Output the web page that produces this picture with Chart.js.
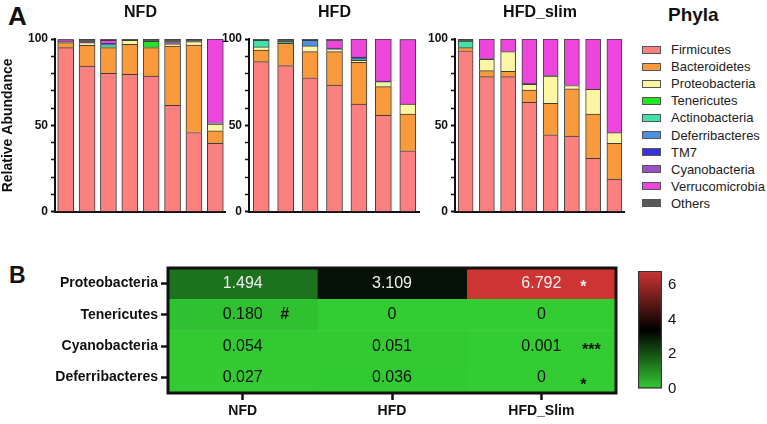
<!DOCTYPE html>
<html>
<head>
<meta charset="utf-8">
<script src="https://cdn.jsdelivr.net/npm/chart.js@4.4.1/dist/chart.umd.min.js"></script>
<style>
    body { margin: 0; background: #fff; font-family: "Liberation Sans", Arial, sans-serif; }
    #wrap { position: relative; width: 767px; height: 424px; overflow: hidden; }
    canvas { position: absolute; }
    .tag { position: absolute; font-weight: bold; color: #111; }
    #legend { position: absolute; left: 642px; top: 42px; }
    .row { position: absolute; left: 0; height: 16px; white-space: nowrap; font-size: 13px; color: #222; line-height: 16px; }
    .sw { display: inline-block; width: 17px; height: 6px; border: 1px solid #555; margin-right: 10px; vertical-align: middle; position: relative; top: -1px; }
</style>
</head>
<body>
<div id="wrap">
    <div class="tag" style="left:8px;top:1px;font-size:26px;">A</div>
    <div class="tag" style="left:9px;top:262px;font-size:23px;">B</div>
    <div class="tag" style="left:668px;top:4px;font-size:19px;">Phyla</div>
    <div id="legend"></div>
    <canvas id="nfd" width="226" height="222" style="left:0;top:0"></canvas>
    <canvas id="hfd" width="205" height="222" style="left:215px;top:0"></canvas>
    <canvas id="slim" width="205" height="222" style="left:420px;top:0"></canvas>
    <canvas id="heat" width="630" height="169" style="left:0;top:255px"></canvas>
    <canvas id="cbar" width="60" height="156" style="left:630px;top:252px"></canvas>
</div>
<script>
// Panel A: phyla, stacked from bottom to top
const phyla = ['Firmicutes', 'Bacteroidetes', 'Proteobacteria', 'Tenericutes', 'Actinobacteria',
    'Deferribacteres', 'TM7', 'Cyanobacteria', 'Verrucomicrobia', 'Others'];
const phylaColors = ['#fb8080', '#f99b3d', '#fbf6a2', '#22e622', '#41e2a6',
    '#4b90e3', '#3434dc', '#9b4fc9', '#ee46dc', '#595959'];

const nfdMice = ['1', '2', '3', '4', '5', '6', '7', '8'];
const hfdMice = ['1', '2', '3', '4', '5', '6', '7'];
const slimMice = ['1', '2', '3', '4', '5', '6', '7', '8'];

// one row per phylum, one column per mouse (%)
const nfdValues = [
    [95.0, 84.4, 80.1, 79.5, 78.6, 61.6, 45.9, 39.6],
    [2.9, 11.9, 14.9, 17.4, 16.4, 34.3, 50.6, 7.3],
    [0.4, 1.6, 0.3, 2.3, 0.3, 1.3, 2.0, 3.9],
    [0, 0, 0, 0, 3.4, 0, 0, 0],
    [0, 0, 1.5, 0, 0, 0, 0, 0.4],
    [0, 0, 0, 0, 0, 0, 0, 0],
    [0, 0, 0.7, 0, 0, 0, 0, 0],
    [0.4, 0, 0, 0, 0, 0.8, 0, 0],
    [0.8, 0.3, 1.8, 0, 0, 0, 0, 48.8],
    [0.5, 1.8, 0.7, 0.8, 1.3, 2.0, 1.5, 0],
];
const hfdValues = [
    [86.9, 84.6, 77.6, 73.4, 62.4, 55.8, 35.3],
    [6.7, 12.9, 15.1, 19.3, 24.1, 16.6, 21.3],
    [1.8, 0, 3.3, 1.6, 1.2, 2.9, 5.8],
    [0, 0, 0, 0, 0, 0, 0],
    [3.9, 0.8, 0, 0, 0.8, 0, 0],
    [0, 0, 3.3, 0, 0, 0, 0],
    [0, 0, 0, 0.5, 1.0, 0.4, 0],
    [0, 0, 0, 0, 0, 0, 0],
    [0, 0, 0, 4.6, 10.5, 24.3, 37.3],
    [0.7, 1.7, 0.7, 0.6, 0, 0, 0.3],
];
const slimValues = [
    [93.2, 78.2, 78.2, 63.3, 44.6, 43.8, 30.9, 18.9],
    [1.8, 3.5, 3.1, 7.2, 18.1, 27.4, 25.7, 20.7],
    [0, 6.6, 11.4, 3.3, 15.8, 1.9, 14.3, 6.2],
    [0, 0, 0, 0, 0, 0, 0, 0],
    [3.8, 0, 0, 0, 0, 0, 0, 0],
    [0, 0, 0, 0, 0, 0, 0, 0],
    [0, 0, 0, 0, 0, 0, 0, 0],
    [0, 0.4, 0, 0.5, 0.4, 0, 0, 0],
    [0, 11.3, 7.3, 25.7, 21.1, 26.9, 29.1, 54.2],
    [1.2, 0, 0, 0, 0, 0, 0, 0],
];

// Panel B: heatmap
const heatRows = ['Proteobacteria', 'Tenericutes', 'Cyanobacteria', 'Deferribacteres'];
const heatCols = ['NFD', 'HFD', 'HFD_Slim'];
const nfdHeat = [1.494, 0.180, 0.054, 0.027];
const hfdHeat = [3.109, 0, 0.051, 0.036];
const slimHeat = [6.792, 0, 0.001, 0];
const nfdMarks = ['', '#', '', ''];
const hfdMarks = ['', '', '', ''];
const slimMarks = ['*', '', '***', '*'];
const scaleTicks = [0, 2, 4, 6];
const scaleMax = 6.8;
const scaleMid = 3.4;

Chart.defaults.font.family = '"Liberation Sans", Arial, sans-serif';
Chart.defaults.color = '#111';

function mix(a, b, t) {
    return a.map((v, i) => Math.round(v + (b[i] - v) * t));
}

function scaleColor(v) {
    const green = [51, 204, 51], black = [0, 0, 0], red = [206, 52, 52];
    let c;
    if (v <= scaleMid) {
        c = mix(green, black, v / scaleMid);
    } else {
        c = mix(black, red, Math.min(1, (v - scaleMid) / (scaleMax - scaleMid)));
    }
    return `rgb(${c[0]},${c[1]},${c[2]})`;
}

function makeStackChart(id, title, mice, values, yWidth, showYTitle, barW) {
    const datasets = phyla.map((name, i) => ({
        label: name,
        data: values[i],
        backgroundColor: phylaColors[i],
        borderColor: '#3c3c3c',
        borderWidth: 1,
        barThickness: barW,
    }));

    new Chart(document.getElementById(id), {
        type: 'bar',
        data: { labels: mice, datasets: datasets },
        options: {
            responsive: false,
            animation: false,
            plugins: {
                legend: { display: false },
                tooltip: { enabled: false },
            },
            scales: {
                x: {
                    stacked: true,
                    ticks: { display: false },
                    grid: { display: false },
                    border: { color: '#111', width: 2 },
                    afterFit: (s) => { s.height = 10; },
                },
                top: {
                    type: 'linear',
                    position: 'top',
                    min: 0,
                    max: 1,
                    ticks: { display: false },
                    grid: { display: false },
                    border: { display: false },
                    title: {
                        display: true,
                        text: title,
                        color: '#111',
                        font: { size: 16, weight: 'bold' },
                        padding: { top: 3, bottom: 0 },
                    },
                    afterFit: (s) => { s.height = 39; },
                },
                y: {
                    stacked: true,
                    min: 0,
                    max: 100,
                    ticks: {
                        stepSize: 10,
                        autoSkip: false,
                        color: '#111',
                        padding: 3,
                        font: { size: 12, weight: 'bold' },
                        callback: (v) => (v % 50 === 0 ? v : ''),
                    },
                    grid: {
                        drawOnChartArea: false,
                        tickLength: 4,
                        tickColor: '#111',
                        tickWidth: (ctx) => (ctx.tick && ctx.tick.value % 50 === 0 ? 2 : 1.5),
                    },
                    border: { color: '#111', width: 2 },
                    title: {
                        display: showYTitle,
                        text: 'Relative Abundance',
                        color: '#111',
                        font: { size: 14, weight: 'bold' },
                        padding: 0,
                    },
                    afterFit: (s) => { s.width = yWidth; },
                },
            },
        },
    });
}

makeStackChart('nfd', 'NFD', nfdMice, nfdValues, 55, true, 16);
makeStackChart('hfd', 'HFD', hfdMice, hfdValues, 34, false, 16);
makeStackChart('slim', 'HFD_slim', slimMice, slimValues, 35, false, 15);

// legend (HTML, built from the phyla list)
const legendEl = document.getElementById('legend');
phyla.forEach((name, i) => {
    const row = document.createElement('div');
    row.className = 'row';
    row.style.top = (i * 17.1) + 'px';
    row.innerHTML = `<span class="sw" style="background:${phylaColors[i]}"></span>${name}`;
    legendEl.appendChild(row);
});

// heatmap
const heatValues = [nfdHeat, hfdHeat, slimHeat];
const heatMarks = [nfdMarks, hfdMarks, slimMarks];

const cellText = {
    id: 'cellText',
    afterDatasetsDraw(chart) {
        const ctx = chart.ctx;
        ctx.save();
        ctx.textAlign = 'center';
        ctx.textBaseline = 'middle';
        chart.data.datasets.forEach((ds, c) => {
            chart.getDatasetMeta(c).data.forEach((bar, r) => {
                const cx = (bar.x + bar.base) / 2;
                const v = heatValues[c][r];
                ctx.fillStyle = v > 1 ? '#eeeeee' : '#111';
                ctx.font = '16px "Liberation Sans", Arial, sans-serif';
                ctx.fillText(v === 0 ? '0' : v.toFixed(3), cx, bar.y);
                const mark = heatMarks[c][r];
                if (mark) {
                    ctx.font = 'bold 16px "Liberation Sans", Arial, sans-serif';
                    const dx = mark.length > 1 ? 50 : 42;
                    const dy = mark === '#' ? 0 : (r === heatRows.length - 1 ? 8 : 4);
                    ctx.fillText(mark, cx + dx, bar.y + dy);
                }
            });
        });
        const a = chart.chartArea;
        ctx.strokeStyle = '#111';
        ctx.lineWidth = 3;
        ctx.strokeRect(a.left, a.top, a.right - a.left, a.bottom - a.top);
        ctx.restore();
    },
};

new Chart(document.getElementById('heat'), {
    type: 'bar',
    data: {
        labels: heatRows,
        datasets: heatCols.map((col, c) => ({
            label: col,
            data: heatRows.map(() => 1),
            backgroundColor: heatValues[c].map(scaleColor),
            borderWidth: 0,
            barPercentage: 1,
            categoryPercentage: 1,
        })),
    },
    options: {
        indexAxis: 'y',
        responsive: false,
        animation: false,
        layout: { padding: { top: 13, right: 14 } },
        plugins: { legend: { display: false }, tooltip: { enabled: false } },
        scales: {
            x: {
                type: 'linear',
                stacked: true,
                min: 0,
                max: heatCols.length,
                afterBuildTicks: (s) => { s.ticks = heatCols.map((_, i) => ({ value: i + 0.5 })); },
                ticks: {
                    color: '#111',
                    padding: 3,
                    font: { size: 14, weight: 'bold' },
                    callback: (v, i) => heatCols[i],
                },
                grid: { drawOnChartArea: false, tickLength: 7, tickColor: '#111', tickWidth: 2.5 },
                border: { display: false },
                afterFit: (s) => { s.height = 31; },
            },
            y: {
                stacked: true,
                ticks: { color: '#111', padding: 3, font: { size: 14, weight: 'bold' } },
                grid: { drawOnChartArea: false, offset: false, tickLength: 7, tickColor: '#111', tickWidth: 2.5 },
                border: { display: false },
                afterFit: (s) => { s.width = 168; },
            },
        },
    },
    plugins: [cellText],
});

// colour scale bar
new Chart(document.getElementById('cbar'), {
    type: 'bar',
    data: {
        labels: ['scale'],
        datasets: [{
            data: [[0, scaleMax]],
            backgroundColor: (ctx) => {
                const chart = ctx.chart;
                if (!chart.chartArea) return '#33cc33';
                const y = chart.scales.y;
                const g = chart.ctx.createLinearGradient(0, y.getPixelForValue(0), 0, y.getPixelForValue(scaleMax));
                g.addColorStop(0, scaleColor(0));
                g.addColorStop(scaleMid / scaleMax, scaleColor(scaleMid));
                g.addColorStop(1, scaleColor(scaleMax));
                return g;
            },
            borderColor: '#333',
            borderWidth: 1.5,
            borderSkipped: false,
            barPercentage: 1,
            categoryPercentage: 1,
        }],
    },
    options: {
        responsive: false,
        animation: false,
        layout: { padding: { top: 0, left: 8 } },
        plugins: { legend: { display: false }, tooltip: { enabled: false } },
        scales: {
            x: { display: false },
            y: {
                position: 'right',
                min: 0,
                max: scaleMax,
                afterBuildTicks: (s) => { s.ticks = scaleTicks.map((v) => ({ value: v })); },
                ticks: { color: '#111', padding: 10, font: { size: 15 } },
                grid: {
                    drawOnChartArea: false,
                    tickLength: -4,
                    tickColor: (ctx) => (ctx.tick && ctx.tick.value > 0 ? '#222' : 'rgba(0,0,0,0)'),
                    tickWidth: 1.5,
                },
                border: { display: false },
                afterFit: (s) => { s.width = 28; },
            },
        },
    },
});
</script>
</body>
</html>
